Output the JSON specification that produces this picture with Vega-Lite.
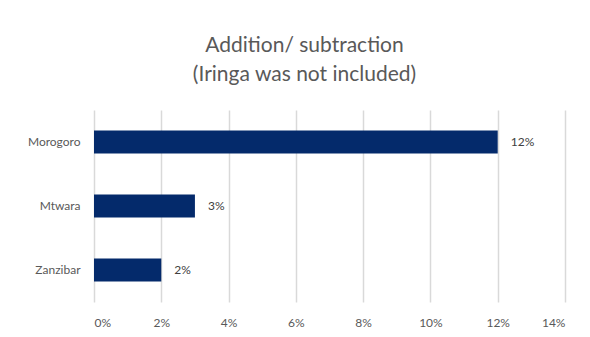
{
  "$schema": "https://vega.github.io/schema/vega-lite/v6.json",
  "autosize": "none",
  "width": 471,
  "height": 192,
  "padding": {"left": 94, "top": 110, "right": 25, "bottom": 35},
  "background": "white",
  "config": {"view": {"stroke": null}, "font": "Lato"},
  "title": {
    "text": ["Addition/ subtraction", "(Iringa was not included)"],
    "anchor": "middle",
    "dx": -25,
    "fontSize": 21,
    "fontWeight": "normal",
    "color": "#595959",
    "lineHeight": 29,
    "offset": 25,
    "font": "Lato"
  },
  "data": {
    "values": [
      {"region": "Morogoro", "value": 0.12},
      {"region": "Mtwara", "value": 0.03},
      {"region": "Zanzibar", "value": 0.02}
    ]
  },
  "encoding": {
    "y": {
      "field": "region",
      "type": "nominal",
      "sort": null,
      "scale": {"paddingInner": 0.64, "paddingOuter": 0.32},
      "axis": {
        "title": null,
        "domain": false,
        "ticks": false,
        "labelPadding": 14,
        "labelFontSize": 12,
        "labelColor": "#595959",
        "labelFont": "Lato"
      }
    },
    "x": {
      "field": "value",
      "type": "quantitative",
      "scale": {"domain": [0, 0.14]},
      "axis": {
        "title": null,
        "format": ".0%",
        "values": [0, 0.02, 0.04, 0.06, 0.08, 0.1, 0.12, 0.14],
        "domain": false,
        "ticks": false,
        "grid": true,
        "gridColor": "#d9d9d9",
        "gridWidth": 1.5,
        "labelPadding": 15,
        "labelFontSize": 12,
        "labelColor": "#595959",
        "labelFont": "Lato"
      }
    }
  },
  "layer": [
    {"mark": {"type": "bar", "color": "#042a6b"}},
    {
      "mark": {"type": "text", "align": "left", "dx": 13, "fontSize": 12, "color": "#404040", "font": "Lato"},
      "encoding": {"text": {"field": "value", "type": "quantitative", "format": ".0%"}}
    }
  ]
}
